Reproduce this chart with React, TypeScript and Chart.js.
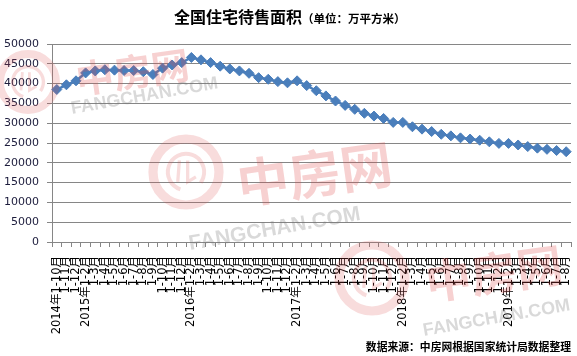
import React, { useEffect, useRef } from "react";
import { Chart, registerables } from "chart.js";

Chart.register(...registerables);

const categories: string[] = [
  "2014年1-10月", "1-11月", "1-12月",
  "2015年1-2月", "1-3月", "1-4月", "1-5月", "1-6月", "1-7月", "1-8月", "1-9月", "1-10月", "1-11月", "1-12月",
  "2016年1-2月", "1-3月", "1-4月", "1-5月", "1-6月", "1-7月", "1-8月", "1-9月", "1-10月", "1-11月", "1-12月",
  "2017年1-2月", "1-3月", "1-4月", "1-5月", "1-6月", "1-7月", "1-8月", "1-9月", "1-10月", "1-11月", "1-12月",
  "2018年1-2月", "1-3月", "1-4月", "1-5月", "1-6月", "1-7月", "1-8月", "1-9月", "1-10月", "1-11月", "1-12月",
  "2019年1-2月", "1-3月", "1-4月", "1-5月", "1-6月", "1-7月", "1-8月",
];

const unsoldArea: number[] = [
  38500, 39700, 40700,
  42700, 43200, 43500, 43400, 43300, 43300, 43000, 42300, 43900, 44700, 45300,
  46600, 46000, 45300, 44400, 43700, 43200, 42600, 41500, 41100, 40500, 40200,
  40700, 39500, 38200, 36900, 35600, 34500, 33500, 32500, 31800, 31200, 30200,
  30200, 29100, 28500, 27900, 27200, 26800, 26300, 26000, 25700, 25300, 24900,
  24900, 24500, 24100, 23700, 23400, 23100, 22800,
];

const yMin = 0;
const yMax = 50000;
const yStep = 5000;

const titleMain = "全国住宅待售面积";
const titleUnit = "（单位：万平方米）";
const sourceNote = "数据来源：中房网根据国家统计局数据整理";
const wmChars = "中房网";
const wmLatin = "FANGCHAN.COM";

const CJK = '"Noto Sans CJK SC", "DejaVu Sans", sans-serif';

const textPlugin = {
  id: "texts",
  afterDraw(chart: any) {
    const ctx = chart.ctx;
    ctx.save();
    ctx.fillStyle = "#000";
    ctx.textBaseline = "middle";
    ctx.textAlign = "left";
    ctx.font = `bold 16px ${CJK}`;
    const x0 = 174;
    ctx.fillText(titleMain, x0, 17);
    const w = ctx.measureText(titleMain).width;
    ctx.font = `bold 11.5px ${CJK}`;
    ctx.fillText(titleUnit, x0 + w, 18.5);
    ctx.font = `bold 10.8px ${CJK}`;
    ctx.textAlign = "right";
    ctx.fillText(sourceNote, 571, 347);
    ctx.restore();
  },
};

function drawMark(
  ctx: CanvasRenderingContext2D,
  cx: number,
  cy: number,
  r: number,
  hx: number,
  hy: number,
  hSize: number,
  lx: number,
  ly: number,
  lSize: number
) {
  ctx.save();
  ctx.strokeStyle = "rgba(220,80,80,0.2)";
  ctx.lineWidth = r * 0.28;
  ctx.beginPath();
  ctx.arc(cx, cy, r, 0, Math.PI * 2);
  ctx.stroke();
  ctx.lineWidth = r * 0.12;
  ctx.beginPath();
  ctx.arc(cx, cy, r * 0.55, Math.PI * 0.6, Math.PI * 2.2);
  ctx.stroke();
  ctx.lineWidth = r * 0.1;
  ctx.beginPath();
  ctx.moveTo(cx - r * 0.2, cy - r * 0.35);
  ctx.lineTo(cx - r * 0.25, cy + r * 0.3);
  ctx.moveTo(cx + r * 0.05, cy - r * 0.35);
  ctx.lineTo(cx + r * 0.05, cy + r * 0.3);
  ctx.lineTo(cx + r * 0.3, cy + r * 0.15);
  ctx.stroke();
  ctx.restore();

  ctx.save();
  ctx.translate(hx, hy);
  ctx.rotate((-8 * Math.PI) / 180);
  ctx.fillStyle = "rgba(225,70,70,0.25)";
  ctx.font = `bold ${hSize}px ${CJK}`;
  ctx.textAlign = "left";
  ctx.textBaseline = "alphabetic";
  ctx.fillText(wmChars, 0, 0);
  ctx.restore();

  ctx.save();
  ctx.translate(lx, ly);
  ctx.rotate((-10 * Math.PI) / 180);
  ctx.fillStyle = "rgba(120,120,120,0.28)";
  ctx.font = `bold ${lSize}px "Liberation Sans", Arial, sans-serif`;
  ctx.textAlign = "left";
  ctx.textBaseline = "alphabetic";
  ctx.fillText(wmLatin, 0, 0);
  ctx.restore();
}

const watermarkPlugin = {
  id: "watermark",
  afterDatasetsDraw(chart: any) {
    const ctx = chart.ctx as CanvasRenderingContext2D;
    drawMark(ctx, 28, 82, 28, 78, 94, 38, 72, 114, 18);
    drawMark(ctx, 186, 172, 33, 240, 204, 52, 190, 250, 21);
    drawMark(ctx, 372, 278, 33, 428, 300, 46, 424, 336, 18);
  },
};

export default function App() {
  const ref = useRef<HTMLCanvasElement | null>(null);

  useEffect(() => {
    if (!ref.current) return;
    const chart = new Chart(ref.current, {
      type: "line",
      data: {
        labels: categories,
        datasets: [
          {
            data: unsoldArea,
            borderColor: "#4A7EBB",
            backgroundColor: "#4A7EBB",
            borderWidth: 2.5,
            pointStyle: "rectRot",
            pointRadius: 5,
            pointBorderWidth: 1,
            pointBackgroundColor: "#4A7EBB",
            pointBorderColor: "#4A7EBB",
            tension: 0,
          },
        ],
      },
      options: {
        responsive: false,
        animation: false,
        layout: { padding: { top: 44, right: 2, bottom: 0, left: 0 } },
        plugins: {
          legend: { display: false },
          title: { display: false },
          tooltip: { enabled: false },
        },
        scales: {
          x: {
            type: "category",
            offset: true,
            grid: {
              offset: true,
              drawOnChartArea: false,
              drawTicks: true,
              tickLength: 5,
              color: "#868686",
            },
            border: { color: "#868686" },
            ticks: {
              autoSkip: false,
              maxRotation: 90,
              minRotation: 90,
              padding: 9,
              color: "#000",
              font: { family: '"DejaVu Sans", "Noto Sans CJK SC", sans-serif', size: 11.5 },
            },
            afterFit(scale: any) {
              scale.height = 114;
              scale.paddingLeft = 0;
              scale.paddingRight = 0;
            },
          },
          y: {
            min: yMin,
            max: yMax,
            grid: { color: "#868686", tickLength: 5 },
            border: { color: "#868686" },
            ticks: {
              stepSize: yStep,
              padding: 8,
              color: "#1c1c3c",
              font: { family: '"DejaVu Sans", sans-serif', size: 11 },
              callback: (v: any) => String(v),
            },
            afterFit(scale: any) {
              scale.width = 52;
            },
          },
        },
      },
      plugins: [watermarkPlugin, textPlugin],
    } as any);
    return () => chart.destroy();
  }, []);

  return (
    <div style={{ position: "absolute", left: 0, top: 0, width: 577, height: 356, background: "#fff" }}>
      <canvas ref={ref} width={577} height={356} />
    </div>
  );
}
